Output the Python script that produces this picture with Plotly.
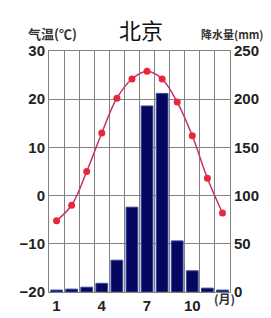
import plotly.graph_objects as go

months = list(range(1, 13))
temperature = [-5.2, -2.0, 5.0, 13.0, 20.2, 24.2, 25.8, 24.2, 19.4, 12.4, 3.6, -3.6]
precipitation = [2, 3, 5, 9, 33, 88, 193, 206, 53, 22, 4, 2]
temp_ticks = [-20, -10, 0, 10, 20, 30]
prec_ticks = [0, 50, 100, 150, 200, 250]
x_ticks = [1, 4, 7, 10]

W, H = 271, 318
ML, MR, MT, MB = 37, 49, 43, 25
PW, PH = W - ML - MR, H - MT - MB


def px(x):
    return (x - ML) / PW


def py(y):
    return (H - MB - y) / PH


tickfont = dict(family="Arial, Liberation Sans", size=15, color="#222222", weight="bold")
grid = "#808080"

fig = go.Figure()
fig.add_trace(go.Bar(
    x=months, y=precipitation, yaxis="y2", width=0.78,
    marker=dict(color="#06075e", line=dict(color="#3a4aa0", width=1)),
))
fig.add_trace(go.Scatter(
    x=months, y=temperature, yaxis="y", mode="lines+markers",
    line=dict(color="#c8306e", width=1.5, shape="spline"),
    marker=dict(color="#e8283a", size=7),
))

cjk = "Noto Sans CJK SC"
fig.update_layout(
    width=W, height=H,
    margin=dict(l=ML, r=MR, t=MT, b=MB),
    paper_bgcolor="white", plot_bgcolor="white",
    showlegend=False,
    xaxis=dict(
        range=[0.5, 12.5], tickvals=x_ticks, ticktext=[str(v) for v in x_ticks],
        showgrid=False, zeroline=False, showline=True, linecolor=grid, mirror=True,
        tickfont=tickfont, ticks="",
        minor=dict(tick0=0.5, dtick=1, showgrid=True, gridcolor=grid, gridwidth=1),
    ),
    yaxis=dict(
        range=[-20, 30], tickvals=temp_ticks, showgrid=True, gridcolor=grid,
        zeroline=False, showline=True, linecolor=grid, tickfont=tickfont, ticks="",
    ),
    yaxis2=dict(
        range=[0, 250], tickvals=prec_ticks, overlaying="y", side="right",
        showgrid=False, zeroline=False, showline=True, linecolor=grid,
        tickfont=tickfont, ticks="",
    ),
    annotations=[
        dict(text="北京", x=px(131), y=py(20), xref="paper", yref="paper",
             xanchor="center", yanchor="middle", showarrow=False,
             font=dict(family=cjk, size=22, color="#111111")),
        dict(text="<b>气温(℃)</b>", x=px(13), y=py(25), xref="paper", yref="paper",
             xanchor="left", yanchor="middle", showarrow=False,
             font=dict(family=cjk, size=13, color="#333333")),
        dict(text="<b>降水量(mm)</b>", x=px(190), y=py(25), xref="paper", yref="paper",
             xanchor="left", yanchor="middle", showarrow=False,
             font=dict(family=cjk, size=11, color="#333333")),
        dict(text="<b>(月)</b>", x=px(216), y=py(300), xref="paper", yref="paper",
             xanchor="center", yanchor="middle", showarrow=False,
             font=dict(family=cjk, size=12, color="#333333")),
    ],
)

fig.write_html("out.html")
